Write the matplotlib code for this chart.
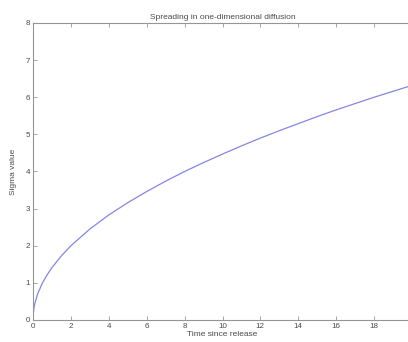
import matplotlib
matplotlib.use("Agg")
import matplotlib.pyplot as plt

# values
t_vals = [0, 0.02, 0.05, 0.1, 0.25, 0.5, 0.75, 1, 1.5, 2, 3, 4, 5, 6, 7, 8,
          9, 10, 11, 12, 13, 14, 15, 16, 17, 18, 19, 20]
sigma_vals = [0, 0.2, 0.32, 0.45, 0.71, 1.0, 1.22, 1.41, 1.73, 2.0, 2.45,
              2.83, 3.16, 3.46, 3.74, 4.0, 4.24, 4.47, 4.69, 4.9, 5.1, 5.29,
              5.48, 5.66, 5.83, 6.0, 6.16, 6.32]
xticks = list(range(0, 21, 2))
yticks = list(range(0, 9))

plt.rcParams['font.family'] = ['Liberation Sans', 'DejaVu Sans']

fig = plt.figure(figsize=(4.08, 3.42), dpi=100)
ax = fig.add_axes([33 / 408, 22 / 342, 379 / 408, 297 / 342])

ax.plot(t_vals, sigma_vals, color='#8585e6', linewidth=0.9)

ax.set_xlim(0, 20)
ax.set_ylim(0, 8)
ax.set_xticks(xticks)
ax.set_yticks(yticks)

gray = '#959595'
txt = '#4a4a4a'
for sp in ax.spines.values():
    sp.set_color(gray)
    sp.set_linewidth(0.8)
ax.tick_params(direction='in', length=3, width=0.6, colors=gray,
               labelcolor=txt, labelsize=5.8, top=True, right=True, pad=2)

ax.set_title("Spreading in one-dimensional diffusion", fontsize=6,
             color=txt, pad=3)
ax.set_xlabel("Time since release", fontsize=6, color=txt, labelpad=1)
ax.set_ylabel("Sigma value", fontsize=6, color=txt, labelpad=6)

fig.savefig("out.png", dpi=100)
